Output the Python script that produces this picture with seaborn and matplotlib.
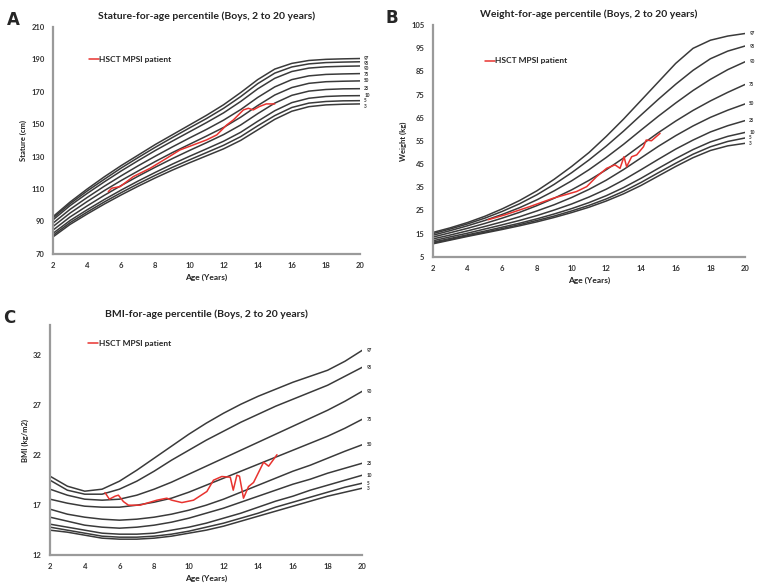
import numpy as np
import pandas as pd
import seaborn as sns
import matplotlib.pyplot as plt

ages = list(range(2, 21))
pct_names = ['97', '95', '90', '75', '50', '25', '10', '5', '3']

# stature-for-age percentiles (cm), one list per percentile, ages 2..20
stature = {
    '97': [93, 102, 110, 117.5, 124.5, 131, 137.5, 143.5, 149.5, 155.5, 162, 169.5, 177.5, 184, 187.5, 189.3, 190, 190.3, 190.5],
    '95': [92.2, 101, 108.8, 116, 123, 129.5, 135.8, 141.8, 147.7, 153.5, 159.8, 167, 175, 181.5, 185.3, 187.2, 188, 188.3, 188.5],
    '90': [91, 99.8, 107.3, 114.4, 121.2, 127.6, 133.8, 139.6, 145.3, 151, 157, 164, 171.8, 178.3, 182.5, 184.6, 185.4, 185.7, 185.9],
    '75': [89, 97.5, 104.8, 111.7, 118.2, 124.4, 130.3, 136, 141.5, 146.8, 152.5, 159, 166.5, 173, 177.5, 179.8, 180.7, 181, 181.2],
    '50': [86.9, 95.2, 102.3, 109, 115.3, 121.2, 127, 132.5, 137.6, 142.7, 148, 154.3, 161.5, 168, 172.6, 175.2, 176.2, 176.5, 176.7],
    '25': [84.7, 92.8, 99.6, 106.1, 112.2, 118, 123.5, 128.8, 133.8, 138.6, 143.6, 149.5, 156.5, 163, 167.8, 170.4, 171.4, 171.8, 171.9],
    '10': [82.7, 90.6, 97.2, 103.5, 109.4, 115, 120.3, 125.4, 130.2, 134.8, 139.5, 145, 151.8, 158.3, 163.3, 166, 167.1, 167.5, 167.6],
    '5': [81.5, 89.3, 95.8, 102, 107.8, 113.3, 118.5, 123.4, 128, 132.5, 137, 142.3, 149, 155.3, 160.3, 163, 164, 164.4, 164.5],
    '3': [80.5, 88.2, 94.6, 100.7, 106.4, 111.8, 116.9, 121.7, 126.2, 130.5, 134.8, 140, 146.5, 153, 158, 160.8, 161.9, 162.3, 162.5],
}

# weight-for-age percentiles (kg)
weight = {
    '97': [15.5, 17.5, 19.8, 22.5, 25.7, 29.3, 33.5, 38.5, 44, 50, 57, 64.5, 72.5, 80.5, 88.5, 95, 98.5, 100.3, 101.4],
    '95': [15, 17, 19.2, 21.7, 24.6, 27.9, 31.8, 36.3, 41.3, 46.8, 52.8, 59.3, 66.2, 73, 79.5, 85.5, 90.5, 93.8, 96],
    '90': [14.3, 16.3, 18.4, 20.7, 23.3, 26.2, 29.6, 33.5, 37.8, 42.6, 47.9, 53.6, 59.7, 65.7, 71.4, 76.8, 81.6, 85.8, 89.2],
    '75': [13.5, 15.4, 17.3, 19.4, 21.7, 24.2, 27.1, 30.3, 33.9, 38, 42.6, 47.7, 53.2, 58.6, 63.6, 68.2, 72.3, 76, 79.4],
    '50': [12.7, 14.4, 16.2, 18.1, 20.1, 22.3, 24.8, 27.5, 30.6, 34.1, 38.1, 42.7, 47.7, 52.7, 57.3, 61.5, 65.2, 68.3, 71],
    '25': [11.9, 13.6, 15.2, 17, 18.8, 20.7, 22.8, 25.2, 27.8, 30.8, 34.2, 38.2, 42.6, 47.1, 51.5, 55.4, 58.9, 61.6, 63.8],
    '10': [11.3, 12.9, 14.5, 16.1, 17.8, 19.5, 21.4, 23.5, 25.8, 28.4, 31.4, 34.9, 38.9, 43.2, 47.4, 51.3, 54.6, 57, 58.7],
    '5': [10.9, 12.5, 14.1, 15.6, 17.2, 18.9, 20.7, 22.6, 24.8, 27.2, 30, 33.3, 37.1, 41.3, 45.4, 49.3, 52.5, 54.8, 56.3],
    '3': [10.6, 12.2, 13.8, 15.3, 16.8, 18.4, 20.1, 22, 24.1, 26.4, 29.1, 32.2, 35.8, 39.9, 44, 47.8, 50.9, 52.9, 54],
}

# BMI-for-age percentiles (kg/m2)
bmi = {
    '97': [19.9, 18.9, 18.4, 18.6, 19.4, 20.5, 21.7, 22.9, 24.1, 25.2, 26.2, 27.1, 27.9, 28.6, 29.3, 29.9, 30.5, 31.4, 32.5],
    '95': [19.5, 18.5, 18.1, 18.1, 18.6, 19.4, 20.4, 21.5, 22.5, 23.5, 24.4, 25.3, 26.1, 26.9, 27.6, 28.3, 29.0, 29.9, 30.8],
    '90': [18.6, 18.0, 17.6, 17.5, 17.6, 18.0, 18.6, 19.3, 20.1, 20.9, 21.7, 22.5, 23.3, 24.1, 24.9, 25.7, 26.5, 27.4, 28.4],
    '75': [17.6, 17.2, 16.9, 16.8, 16.8, 17.0, 17.3, 17.7, 18.3, 19.0, 19.7, 20.4, 21.1, 21.8, 22.5, 23.2, 23.9, 24.7, 25.6],
    '50': [16.6, 16.1, 15.8, 15.6, 15.5, 15.6, 15.8, 16.1, 16.5, 17.0, 17.6, 18.3, 19.0, 19.7, 20.4, 21.0, 21.7, 22.4, 23.05],
    '25': [15.8, 15.4, 15.0, 14.8, 14.7, 14.8, 15.0, 15.3, 15.7, 16.2, 16.7, 17.3, 17.9, 18.5, 19.1, 19.6, 20.2, 20.7, 21.2],
    '10': [15.1, 14.8, 14.5, 14.2, 14.1, 14.1, 14.2, 14.5, 14.8, 15.2, 15.7, 16.2, 16.8, 17.4, 17.9, 18.5, 19.0, 19.5, 20.0],
    '5': [14.8, 14.5, 14.2, 13.9, 13.8, 13.8, 13.9, 14.1, 14.4, 14.8, 15.2, 15.7, 16.2, 16.8, 17.3, 17.8, 18.3, 18.8, 19.2],
    '3': [14.5, 14.3, 14.0, 13.7, 13.6, 13.6, 13.7, 13.9, 14.2, 14.5, 14.9, 15.4, 15.9, 16.4, 16.9, 17.4, 17.9, 18.3, 18.7],
}

# patient measurements
pt_stature_age = [5.24, 5.44, 5.93, 6.71, 7.69, 8.66, 9.44, 10.22, 11.0, 11.6, 12.18, 12.57, 12.77, 13.16, 13.45, 13.74, 14.1, 14.5, 15.0]
pt_stature = [108.4, 110.5, 111.5, 117.7, 122.8, 129, 134.1, 137.2, 140.3, 143.4, 149.5, 152.6, 154.7, 158.8, 159.8, 158.8, 160.9, 162.5, 162.5]

pt_weight_age = [5.19, 6.15, 7.6, 8.94, 10.29, 10.87, 11.44, 12.02, 12.5, 12.79, 13.02, 13.17, 13.46, 13.75, 14.14, 14.3, 14.6, 15.1]
pt_weight = [21.0, 23.1, 26.7, 30.3, 33.2, 35.3, 39.6, 43.2, 44.7, 43.2, 48.2, 43.9, 48.2, 49, 52.5, 55.4, 55.1, 58.3]

pt_bmi_age = [5.17, 5.42, 5.75, 5.94, 6.23, 6.52, 7.19, 8.16, 8.73, 9.02, 9.6, 10.27, 11.04, 11.42, 11.9, 12.39, 12.56, 12.77, 12.92, 13.15, 13.44, 13.73, 14.31, 14.6, 15.08]
pt_bmi = [18.26, 17.6, 17.9, 18.0, 17.36, 17.0, 17.0, 17.5, 17.7, 17.5, 17.26, 17.5, 18.37, 19.5, 19.87, 19.8, 18.5, 20.0, 19.9, 17.7, 18.86, 19.27, 21.3, 20.9, 22.05]

sns.set_style('white')
plt.rcParams['font.family'] = ['Lato', 'DejaVu Sans']

fig = plt.figure(figsize=(7.58, 5.85), dpi=100)
ax_a = fig.add_axes([0.070, 0.566, 0.405, 0.388])
ax_b = fig.add_axes([0.571, 0.561, 0.412, 0.396])
ax_c = fig.add_axes([0.066, 0.051, 0.412, 0.393])

line_col = '#3a3a3a'
red = '#e8332f'


def growth_panel(ax, table, pt_age, pt_val, ylim, yticks, title, ylabel, letter, leg_xy):
    long = pd.DataFrame([(p, a, v) for p in pct_names for a, v in zip(ages, table[p])],
                        columns=['pct', 'age', 'value'])
    sns.lineplot(data=long, x='age', y='value', units='pct', estimator=None,
                 color=line_col, lw=1.1, ax=ax)
    sns.lineplot(x=pt_age, y=pt_val, color=red, lw=1.1, ax=ax,
                 label='HSCT MPSI patient', sort=False)

    # percentile labels at the right end, nudged apart so they do not collide
    px_per_unit = ax.get_position().height * 585 / (ylim[1] - ylim[0])
    gap = 5.2 / px_per_unit
    prev = None
    for p in pct_names:
        y = table[p][-1]
        if prev is not None and y > prev - gap:
            y = prev - gap
        prev = y
        ax.annotate(p, (20, y), xytext=(3, 0), textcoords='offset points',
                    fontsize=3.3, fontweight='bold', color='#333333', va='center',
                    annotation_clip=False)

    ax.set_xlim(2, 20)
    ax.set_ylim(*ylim)
    ax.set_xticks(range(2, 21, 2))
    ax.set_yticks(yticks)
    ax.tick_params(length=0, labelsize=5.5, colors='#333333', pad=6)
    for lab in ax.get_xticklabels() + ax.get_yticklabels():
        lab.set_fontweight('bold')
    for s in ['top', 'right']:
        ax.spines[s].set_visible(False)
    for s in ['left', 'bottom']:
        ax.spines[s].set_color('#9a9a9a')
        ax.spines[s].set_linewidth(1.6)
    ax.set_title(title, fontsize=7.5, fontweight='bold', color='#222222', pad=6)
    ax.set_xlabel('Age (Years)', fontsize=6, fontweight='bold', color='#222222', labelpad=3)
    ax.set_ylabel(ylabel, fontsize=5.5, fontweight='bold', color='#222222', labelpad=3)
    ax.legend(loc='upper left', bbox_to_anchor=leg_xy, frameon=False,
              handlelength=1.2, handletextpad=0.1, borderaxespad=0,
              prop={'weight': 'bold', 'size': 6})
    ax.text(-0.15, 1.03, letter, transform=ax.transAxes, fontsize=12,
            fontweight='bold', va='center', ha='left', family='DejaVu Sans')


growth_panel(ax_a, stature, pt_stature_age, pt_stature, (70, 210), range(70, 211, 20),
             'Stature-for-age percentile (Boys, 2 to 20 years)', 'Stature (cm)', 'A', (0.105, 0.885))
growth_panel(ax_b, weight, pt_weight_age, pt_weight, (5, 105), range(5, 106, 10),
             'Weight-for-age percentile (Boys, 2 to 20 years)', 'Weight (kg)', 'B', (0.155, 0.875))
growth_panel(ax_c, bmi, pt_bmi_age, pt_bmi, (12, 35), range(12, 33, 5),
             'BMI-for-age percentile (Boys, 2 to 20 years)', 'BMI (kg/m2)', 'C', (0.11, 0.95))

fig.savefig('out.png', dpi=100)
